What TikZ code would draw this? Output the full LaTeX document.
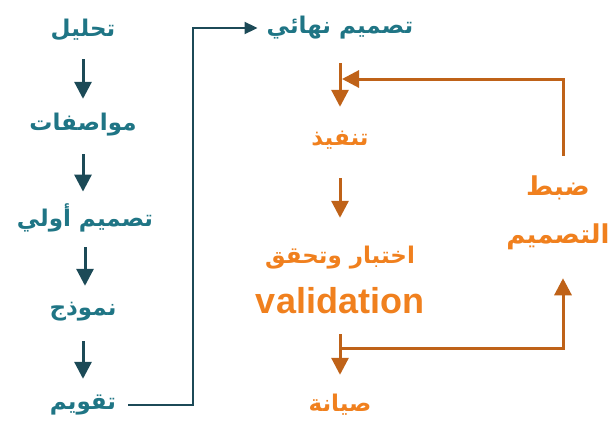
\documentclass[tikz,border=0pt]{standalone}
\usepackage{fontspec}
\setmainfont{Liberation Sans}
\newfontfamily\arabicfont[Script=Arabic]{DejaVu Sans}
\TeXXeTstate=1
\usetikzlibrary{arrows.meta}
\definecolor{tealtext}{HTML}{1F7585}
\definecolor{tealline}{HTML}{1C4A57}
\definecolor{orangetext}{HTML}{F0801E}
\definecolor{orangeline}{HTML}{BF6218}
\newcommand{\ar}[1]{{\arabicfont\bfseries\beginR #1\endR}}
\begin{document}
\begin{tikzpicture}[x=1pt,y=-1pt,
  lbl/.style={inner sep=0pt, minimum height=28pt, font=\fontsize{23}{27}\selectfont},
  tlbl/.style={lbl, text=tealtext},
  olbl/.style={lbl, text=orangetext},
  tarr/.style={draw=tealline, line width=3pt, -{Triangle[width=17pt,length=17pt]}},
  oarr/.style={draw=orangeline, line width=3pt, -{Triangle[width=17pt,length=17pt]}},
  tlink/.style={draw=tealline, line width=2pt, -{Triangle[width=12pt,length=13pt]}}]
\useasboundingbox (0,0) rectangle (613,434);
% analysis-to-evaluation column
\node[tlbl] (tahlil) at (83,30) {\ar{تحليل}};
\node[tlbl] (muwasafat) at (83,125) {\ar{مواصفات}};
\node[tlbl] (awwali) at (85,218) {\ar{تصميم أولي}};
\node[tlbl] (namudhaj) at (83,312) {\ar{نموذج}};
\node[tlbl] (taqwim) at (83,405) {\ar{تقويم}};
\foreach \a/\b in {tahlil/muwasafat, muwasafat/awwali, awwali/namudhaj, namudhaj/taqwim}
  \draw[tarr, shorten <=15pt, shorten >=12pt] (\a.center |- \a.south) -- (\a.center |- \b.north);
% final design and implementation column
\node[tlbl] (nihai) at (340,28) {\ar{تصميم نهائي}};
\node[olbl] (tanfidh) at (340,140) {\ar{تنفيذ}};
\node[olbl] (ikhtibar) at (340,258) {\ar{اختبار وتحقق}};
\node[inner sep=0pt, text=orangetext, font=\fontsize{36}{40}\selectfont\bfseries] (valid) at (340,301) {validation};
\node[olbl] (siyana) at (340,405) {\ar{صيانة}};
\node[inner sep=0pt, text=orangetext, align=center, font=\fontsize{26}{48}\selectfont] (dabt) at (558,213) {\ar{ضبط}\\\ar{التصميم}};
% teal link from evaluation up to the final design
\draw[tlink, shorten <=12pt, shorten >=9pt] (taqwim.east) -- (taqwim.east -| 193,0) |- (nihai.west);
% orange flow
\draw[oarr, shorten <=21pt, shorten >=19pt] (nihai) -- (tanfidh);
\draw[oarr, shorten <=24pt, shorten >=26pt] (tanfidh) -- (ikhtibar);
\coordinate (join) at (342,79);
\coordinate (split) at (340,348);
\draw[oarr, shorten <=20pt, shorten >=16pt] (valid) -- (siyana);
\draw[oarr] ([yshift=20pt]dabt.north -| 563,0) |- (join);
\draw[oarr] (split) -| ([yshift=-28pt]dabt.south -| 563,0);
\end{tikzpicture}
\end{document}
